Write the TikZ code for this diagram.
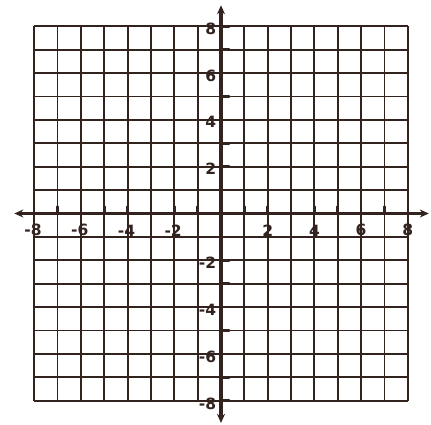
\documentclass[tikz,border=0pt]{standalone}
\usepackage{fontspec}
\setmainfont{DejaVu Sans}
\usetikzlibrary{arrows.meta}
\definecolor{ink}{HTML}{33231F}
\begin{document}
\begin{tikzpicture}[x=23.35pt,y=23.4pt,
  gridline/.style={ink,line width=1.9pt},
  axisline/.style={ink,line width=3.4pt,{Stealth[length=9pt,width=8pt]}-{Stealth[length=9pt,width=8pt]}},
  tickmark/.style={ink,line width=2.6pt,line cap=round},
  lbl/.style={ink,font=\fontsize{15.5}{16}\selectfont\bfseries,inner sep=0pt}]
\useasboundingbox (-221pt,-210.5pt) rectangle (210pt,213.5pt);
\fill[white] (-221pt,-210.5pt) rectangle (210pt,213.5pt);
% grid
\foreach \i in {-8,...,8} {
  \draw[gridline] (\i,-8) -- (\i,8);
  \draw[gridline] (-8,\i) -- (8,\i);
}
% axes
\draw[axisline] (-8.85,0) -- (8.9,0);
\draw[axisline] (0,-8.95) -- (0,8.9);
% ticks
\foreach \i in {-8,...,-1,1,2,...,8} {
  \draw[tickmark] (\i,0) -- (\i,0.3);
  \draw[tickmark] (0,\i) -- (0.35,\i);
}
% x labels
\foreach \i in {-8,-6,-4,-2} \node[lbl,anchor=center] (x\i) at (\i-0.05,-0.72) {-\the\numexpr-\i\relax};
\foreach \i in {2,4,6,8} \node[lbl,anchor=center] (x\i) at (\i,-0.72) {\i};
% y labels
\foreach \i in {2,4,6,8} \node[lbl,anchor=east] (y\i) at (-0.2,\i-0.1) {\i};
\foreach \i in {-2,-4,-6,-8} \node[lbl,anchor=east] (y\i) at (-0.2,\i-0.12) {-\the\numexpr-\i\relax};
\end{tikzpicture}
\end{document}
